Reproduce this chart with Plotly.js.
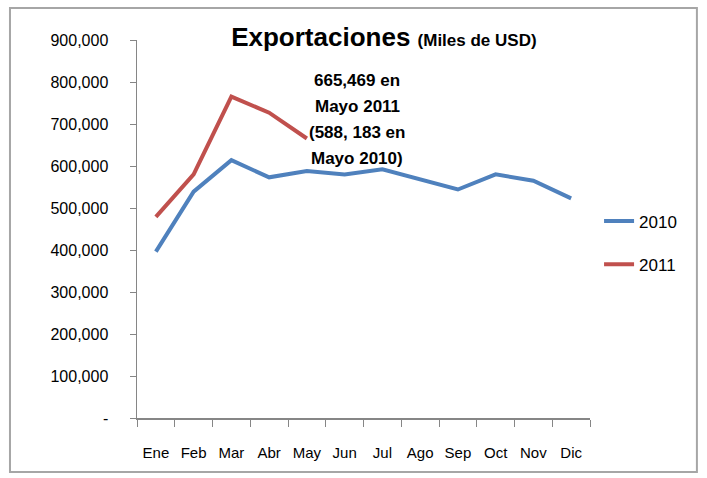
<!DOCTYPE html>
<html lang="es">
<head>
    <meta charset="UTF-8">
    <title>Exportaciones (Miles de USD)</title>
    <script src="https://cdn.plot.ly/plotly-3.0.1.min.js"></script>
    <style>
        html, body { margin: 0; padding: 0; background: white; }
        #chart { width: 707px; height: 478px; }
    </style>
</head>
<body>
    <div id="chart"></div>
    <script>
        // Meses y valores (miles de USD)
        const months = ['Ene', 'Feb', 'Mar', 'Abr', 'May', 'Jun', 'Jul', 'Ago', 'Sep', 'Oct', 'Nov', 'Dic'];
        const exp2010 = [396000, 539000, 614000, 573000, 588183, 580000, 592000, 568000, 544000, 580000, 565000, 523000];
        const exp2011 = [479000, 580000, 765000, 727000, 665469];

        const yTickVals = [0, 100000, 200000, 300000, 400000, 500000, 600000, 700000, 800000, 900000];
        const yTickText = ['-', '100,000', '200,000', '300,000', '400,000', '500,000', '600,000', '700,000', '800,000', '900,000'];

        const noteLines = ['665,469 en', 'Mayo 2011', '(588, 183 en', 'Mayo 2010)'];

        const baseFont = 'Liberation Sans Narrow, Arial Narrow, Liberation Sans, sans-serif';

        const data = [
            {
                x: months, y: exp2010, name: '2010', type: 'scatter', mode: 'lines',
                line: { color: '#4f81bd', width: 4 }, legendgroup: 'a'
            },
            {
                x: months.slice(0, exp2011.length), y: exp2011, name: '2011', type: 'scatter', mode: 'lines',
                line: { color: '#c0504d', width: 4 }, legendgroup: 'b'
            }
        ];

        // notas: una anotacion por linea para imitar el interlineado
        const notes = noteLines.map((t, i) => ({
            text: t, xref: 'paper', yref: 'paper',
            x: 0.486, y: 0.893 - i * 0.069,
            xanchor: 'center', yanchor: 'middle', showarrow: false,
            font: { family: baseFont, size: 17, color: '#000', weight: 'bold' }
        }));

        const layout = {
            width: 707, height: 478,
            margin: { l: 137, r: 117, t: 40, b: 60 },
            paper_bgcolor: 'white', plot_bgcolor: 'white',
            title: {
                text: '<b>Exportaciones</b> <b><span style="font-size:17px">(Miles de USD)</span></b>',
                x: 0.543, xanchor: 'center', y: 0.923, yanchor: 'middle',
                font: { family: baseFont, size: 26, color: '#000' }
            },
            xaxis: {
                type: 'category', range: [-0.5, 11.5],
                showline: true, linecolor: '#868686', linewidth: 1.5,
                ticks: 'outside', tickson: 'boundaries', ticklen: 7, tickcolor: '#868686',
                showgrid: false, zeroline: false, tickangle: 0,
                tickfont: { family: baseFont, size: 15, color: '#000' }, ticklabelstandoff: 20
            },
            yaxis: {
                range: [0, 900000], tickvals: yTickVals, ticktext: yTickText,
                showline: true, linecolor: '#868686', linewidth: 1.5,
                ticks: 'outside', ticklen: 6, tickcolor: '#868686',
                showgrid: false, zeroline: false,
                tickfont: { family: baseFont, size: 16, color: '#000' }, ticklabelstandoff: 18
            },
            showlegend: true,
            legend: {
                x: 1.02, xanchor: 'left', y: 0.463, yanchor: 'middle',
                font: { family: baseFont, size: 17, color: '#000' },
                tracegroupgap: 18, bgcolor: 'rgba(0,0,0,0)'
            },
            annotations: notes,
            shapes: [{
                type: 'rect', xref: 'paper', yref: 'paper',
                x0: -0.2804, x1: 1.236, y0: -0.1429, y1: 1.0847,
                line: { color: '#a6a6a6', width: 2 }, fillcolor: 'rgba(0,0,0,0)'
            }]
        };

        Plotly.newPlot('chart', data, layout, { displayModeBar: false, staticPlot: true });
    </script>
</body>
</html>
